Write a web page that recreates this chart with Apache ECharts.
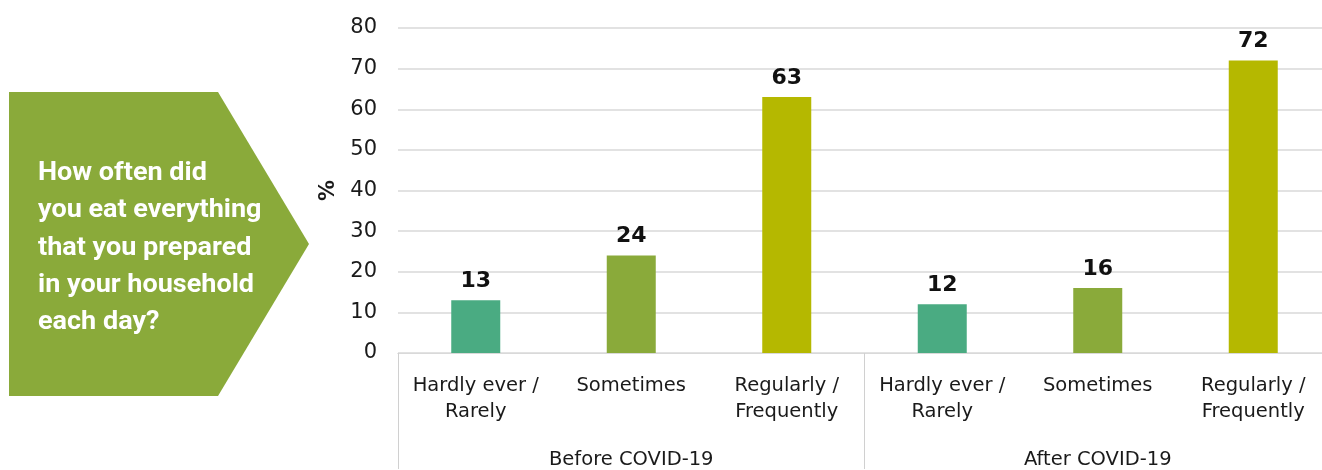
<!DOCTYPE html>
<html><head><meta charset="utf-8">
<script src="https://cdn.jsdelivr.net/npm/echarts@6/dist/echarts.min.js"></script>
<style>html,body{margin:0;padding:0;background:#fff;overflow:hidden;width:1322px;height:470px}#c{width:1331px;height:470px}</style>
</head><body><div id="c"></div>
<script>
const categories = ['Hardly ever /\nRarely','Sometimes','Regularly /\nFrequently','Hardly ever /\nRarely','Sometimes','Regularly /\nFrequently'];
const groups = ['Before COVID-19','After COVID-19'];
const values = [13,24,63,12,16,72];
const colors = ['#4aab82','#8aaa3a','#b5b800','#4aab82','#8aaa3a','#b5b800'];
const yTicks = [0,10,20,30,40,50,60,70,80];
const question = 'How often did\nyou eat everything\nthat you prepared\nin your household\neach day?';

const chart = echarts.init(document.getElementById('c'));
chart.setOption({
  animation:false,
  grid:{left:398,right:0,top:28,height:325,containLabel:false},
  xAxis:[{
    type:'category',data:categories,
    axisLine:{lineStyle:{color:'#d9d9d9'}},
    axisTick:{show:false},
    axisLabel:{color:'#1a1a1a',fontFamily:'DejaVu Sans',fontSize:19.5,lineHeight:26,margin:20,interval:0}
  },{
    type:'category',data:groups,position:'bottom',
    axisLine:{lineStyle:{color:'#d9d9d9'}},
    axisTick:{show:true,length:116,lineStyle:{color:'#d0d0d0'}},
    axisLabel:{color:'#1a1a1a',fontFamily:'DejaVu Sans',fontSize:19.5,margin:97}
  }],
  yAxis:{
    type:'value',min:0,max:80,interval:10,
    name:'%',nameLocation:'middle',nameGap:56,nameRotate:90,
    nameTextStyle:{color:'#1a1a1a',fontFamily:'DejaVu Sans',fontSize:21,fontWeight:'bold'},
    axisLine:{show:false},axisTick:{show:false},
    splitLine:{lineStyle:{color:'#d9d9d9',width:1.5}},
    axisLabel:{color:'#1a1a1a',fontFamily:'DejaVu Sans',fontSize:21,margin:21,
      formatter:v=>yTicks.includes(v)?String(v):''}
  },
  series:[{
    type:'bar',barWidth:49,
    data:values.map((v,i)=>({value:v,itemStyle:{color:colors[i]}})),
    label:{show:true,position:'top',distance:8,color:'#111',fontFamily:'DejaVu Sans',fontSize:22,fontWeight:'bold'}
  }],
  graphic:[{
    type:'polygon',
    shape:{points:[[9,92],[218,92],[309,244],[218,396],[9,396]]},
    style:{fill:'#8aaa3a'}
  },{
    type:'text',x:38,y:155,scaleX:1.08,
    style:{text:question,fill:'#fff',font:'bold 25px Roboto',lineHeight:37.3}
  }]
});
</script></body></html>
